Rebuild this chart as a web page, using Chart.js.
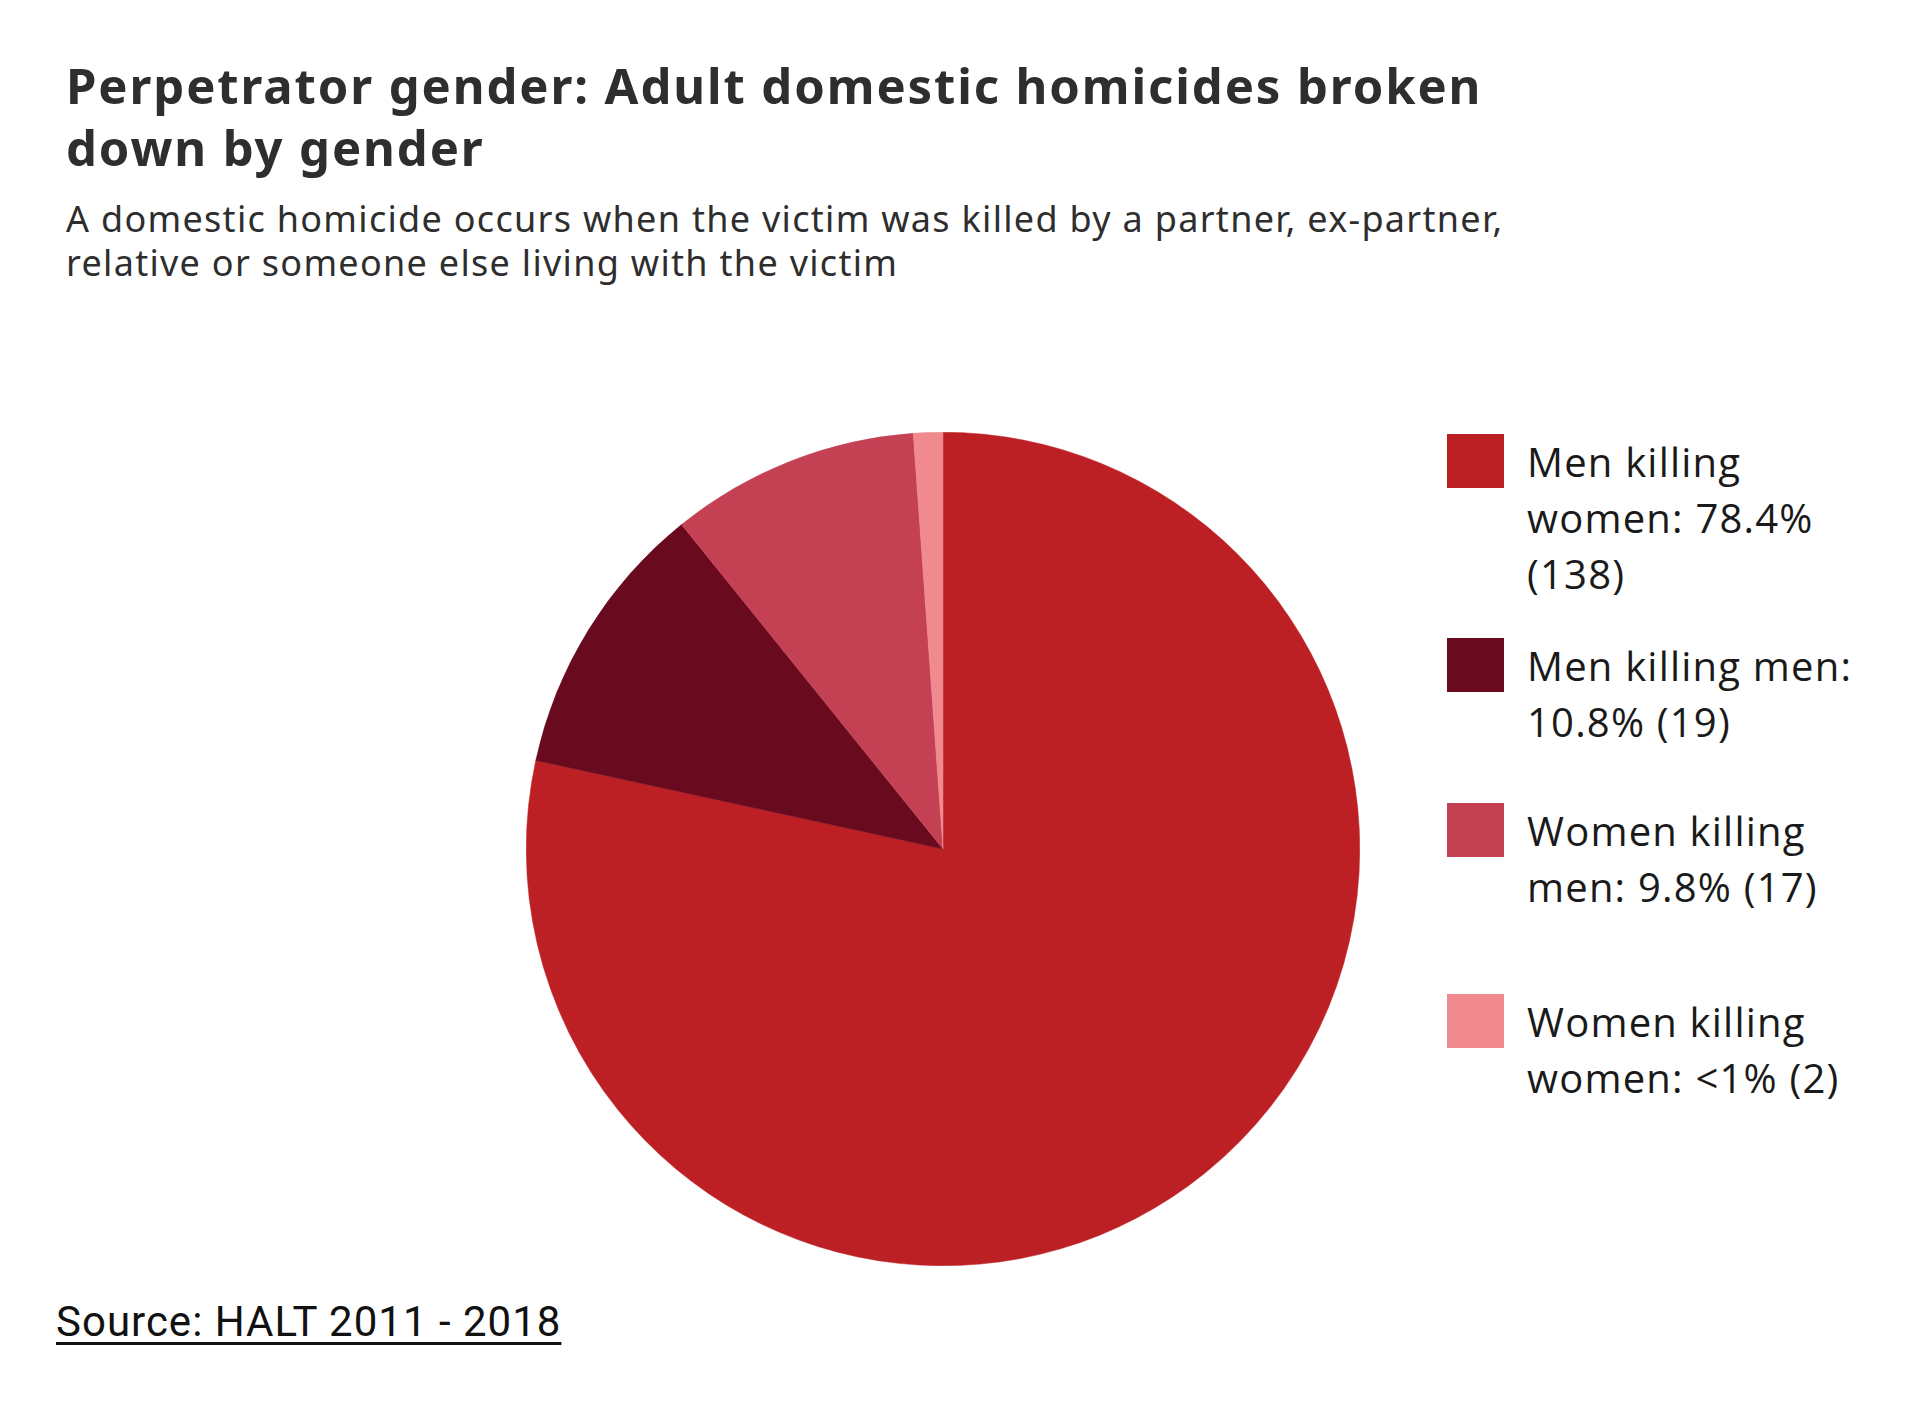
<!DOCTYPE html>
<html>
<head>
<meta charset="utf-8">
<script src="https://cdn.jsdelivr.net/npm/chart.js@4/dist/chart.umd.min.js"></script>
<style>
  html, body { margin: 0; padding: 0; background: #ffffff; }
  body { width: 1907px; height: 1414px; position: relative; overflow: hidden; }
  #title { position: absolute; left: 66px; top: 54px; width: 1700px;
    font-family: "Noto Sans", sans-serif; font-weight: 700; font-size: 49px; line-height: 62px; color: #2e2e2e; letter-spacing: 1.9px; }
  #subtitle { position: absolute; left: 66px; top: 197px; width: 1700px;
    font-family: "Noto Sans", sans-serif; font-weight: 400; font-size: 36px; line-height: 44px; color: #2e2e2e; letter-spacing: 1.3px; }
  #pieWrap { position: absolute; left: 526px; top: 432px; width: 834px; height: 834px; }
  #legend { position: absolute; left: 1447px; top: 0; }
  .item { position: absolute; left: 0; width: 460px; }
  .sw { position: absolute; left: 0; top: 0; width: 57px; height: 54px; }
  .lbl { position: absolute; left: 80px; top: 0px; width: 440px;
    font-family: "Open Sans", sans-serif; font-size: 40px; line-height: 56px; color: #1a1a1a; letter-spacing: 1.2px; white-space: nowrap; }
  #source { position: absolute; left: 56px; top: 1298px;
    font-family: Roboto, sans-serif; font-weight: 400; font-size: 42px; line-height: 48px; color: #111; letter-spacing: 1px; text-decoration: underline; text-underline-offset: 6px; text-decoration-thickness: 3px; }
</style>
</head>
<body>
<div id="title">Perpetrator gender: Adult domestic homicides broken<br>down by gender</div>
<div id="subtitle">A domestic homicide occurs when the victim was killed by a partner, ex-partner,<br>relative or someone else living with the victim</div>
<div id="pieWrap"><canvas id="c" width="834" height="834"></canvas></div>
<div id="legend"></div>
<div id="source">Source: HALT 2011 - 2018</div>
<script>
// ---- data ----
const categories = ["Men killing women", "Men killing men", "Women killing men", "Women killing women"];
const counts = [138, 19, 17, 2];
const shareLabels = ["78.4%", "10.8%", "9.8%", "<1%"];
const legendLines = [
  ["Men killing", "women: 78.4%", "(138)"],
  ["Men killing men:", "10.8% (19)"],
  ["Women killing", "men: 9.8% (17)"],
  ["Women killing", "women: <1% (2)"]
];
const sliceColors = ["#bc2024", "#6a0a1f", "#c44154", "#f08a8e"];
const legendTops = [434, 638, 803, 994];

// ---- chart ----
new Chart(document.getElementById('c'), {
  type: 'pie',
  data: {
    labels: categories,
    datasets: [{
      data: counts,
      backgroundColor: sliceColors,
      borderColor: sliceColors,
      borderWidth: 0.5
    }]
  },
  options: {
    responsive: false,
    animation: false,
    layout: { padding: 0 },
    plugins: { legend: { display: false }, tooltip: { enabled: false } }
  }
});

// ---- legend (HTML) ----
const leg = document.getElementById('legend');
categories.forEach((cat, i) => {
  const it = document.createElement('div');
  it.className = 'item';
  it.style.top = legendTops[i] + 'px';
  const sw = document.createElement('div');
  sw.className = 'sw';
  sw.style.background = sliceColors[i];
  const lb = document.createElement('div');
  lb.className = 'lbl';
  lb.innerHTML = legendLines[i].map(s => s.replace(/</g, '&lt;')).join('<br>');
  it.appendChild(sw); it.appendChild(lb);
  leg.appendChild(it);
});
</script>
</body>
</html>
